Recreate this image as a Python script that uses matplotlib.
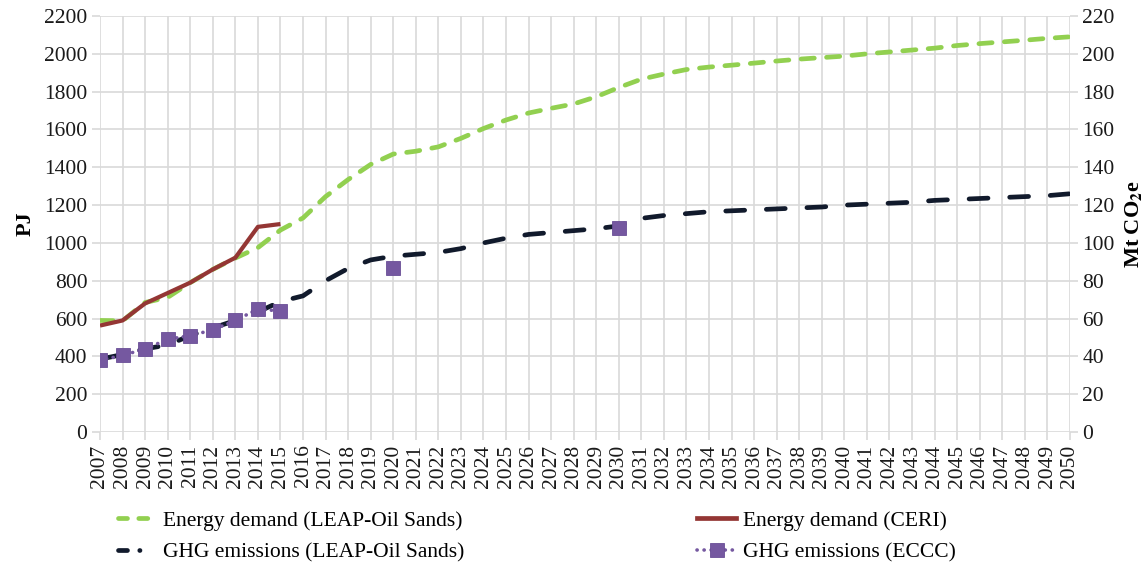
import numpy as np
import matplotlib
matplotlib.use("Agg")
import matplotlib.pyplot as plt
from matplotlib.lines import Line2D

years = list(range(2007, 2051))

# Energy demand, LEAP-Oil Sands model (PJ)
energy_leap = [590, 588, 685, 712, 790, 860, 920, 975, 1068, 1132,
               1245, 1335, 1415, 1470, 1485, 1508, 1553, 1605, 1650, 1687,
               1712, 1735, 1773, 1822, 1866, 1893, 1917, 1930, 1940, 1951,
               1962, 1972, 1980, 1988, 2000, 2010, 2020, 2030, 2044, 2054,
               2063, 2072, 2082, 2090]

# Energy demand, CERI (PJ), 2007-2015
ceri_years = list(range(2007, 2016))
energy_ceri = [563, 590, 680, 735, 790, 860, 922, 1085, 1100]

# GHG emissions, LEAP-Oil Sands model (Mt CO2e)
ghg_leap = [38.5, 41, 44, 46, 51, 55, 59, 63.5, 69, 72,
            80, 86.5, 91, 93, 94, 95, 97, 100, 102.5, 104.5,
            105.5, 106.5, 107.5, 109, 113, 114.5, 115.5, 116.5, 117, 117.5,
            118, 118.5, 119, 120, 120.5, 121, 121.5, 122.5, 123, 123.5,
            124, 124.5, 125, 126]

# GHG emissions, ECCC (Mt CO2e)
eccc_years = [2007, 2008, 2009, 2010, 2011, 2012, 2013, 2014, 2015, 2016,
              2017, 2018, 2019, 2020, 2021, 2022, 2023, 2024, 2025, 2026,
              2027, 2028, 2029, 2030]
ghg_eccc = [38, 40.5, 44, 49, 51, 54, 59, 65, 64, np.nan,
            np.nan, np.nan, np.nan, 87, np.nan, np.nan, np.nan, np.nan, np.nan, np.nan,
            np.nan, np.nan, np.nan, 108]

plt.rcParams["font.family"] = ["Liberation Serif", "DejaVu Serif"]
plt.rcParams["mathtext.fontset"] = "stix"

GREEN = "#92D050"
NAVY = "#111A2C"
RED = "#943634"
PURPLE = "#7558A0"
GRID = "#D9D9D9"

fig = plt.figure(figsize=(11.48, 5.66), dpi=100)
ax = fig.add_axes([0.0871, 0.2367, 0.932 - 0.0871, 0.9717 - 0.2367])
ax2 = ax.twinx()

ax.plot(years, energy_leap, color=GREEN, lw=3.4, dashes=(2.8, 2.6),
        dash_capstyle="round", zorder=3)
ax.plot(ceri_years, energy_ceri, color=RED, lw=3.0, solid_capstyle="butt",
        zorder=4)

ax2.plot(years, ghg_leap, color=NAVY, lw=3.4, dashes=(4.0, 4.6),
         dash_capstyle="round", zorder=3)
ax2.plot(eccc_years, ghg_eccc, color=PURPLE, lw=2.6, dashes=(0.05, 1.8),
         dash_capstyle="round", marker="s", markersize=10.5,
         markeredgecolor="#6A4E96", markeredgewidth=0.6, zorder=4)

ax.set_xlim(2007, 2050)
ax.set_ylim(0, 2200)
ax2.set_ylim(0, 220)
ax.set_yticks(np.arange(0, 2201, 200))
ax2.set_yticks(np.arange(0, 221, 20))
ax.set_xticks(years)
ax.set_xticklabels([str(y) for y in years], rotation=90)

for a in (ax, ax2):
    for s in a.spines.values():
        s.set_visible(False)
ax.grid(True, color=GRID, lw=1.2)
ax.set_axisbelow(True)
ax.tick_params(axis="both", colors=GRID, length=6, width=1.2, labelsize=15.5,
               labelcolor="#1a1a1a", pad=3)
ax2.tick_params(axis="y", colors=GRID, length=6, width=1.2, labelsize=15.5,
                labelcolor="#1a1a1a", pad=3)

ax.set_ylabel("PJ", fontsize=16, fontweight="bold", labelpad=6)
ax2.set_ylabel(r"Mt CO$_\mathbf{2}$e", fontsize=16, fontweight="bold", labelpad=6)

# Legend keys
k_energy_leap = Line2D([], [], color=GREEN, lw=3.4, dashes=(1.9, 2.4),
                       dash_capstyle="round")
k_ghg_leap = Line2D([], [], color=NAVY, lw=3.4, dashes=(1.9, 2.6, 0.05, 6),
                    dash_capstyle="round")
k_ceri = Line2D([], [], color=RED, lw=3.4)
k_eccc = Line2D([], [], color=PURPLE, lw=2.6, dashes=(0.05, 1.9),
                dash_capstyle="round", marker="s", markersize=10.5,
                markeredgecolor="#6A4E96", markeredgewidth=0.6)

handles = [k_energy_leap, k_ghg_leap, k_ceri, k_eccc]
labels = ["Energy demand (LEAP-Oil Sands)", "GHG emissions (LEAP-Oil Sands)",
          "Energy demand (CERI)", "GHG emissions (ECCC)"]
fig.legend(handles, labels, ncol=2, loc="upper left",
           bbox_to_anchor=(0.103, 0.098), frameon=False, fontsize=15.5,
           handlelength=1.8, handletextpad=0.3, columnspacing=10.8,
           labelspacing=0.55, borderaxespad=0, borderpad=0)

fig.savefig("out.png", dpi=100)
